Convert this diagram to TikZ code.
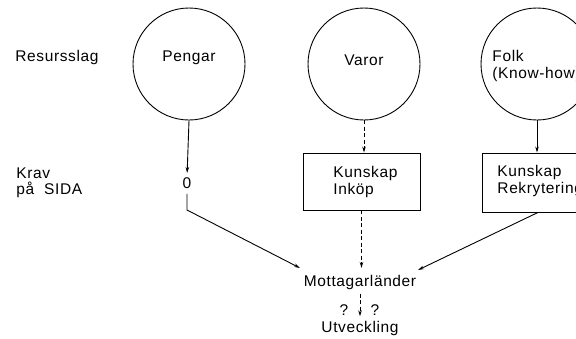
\documentclass[tikz,border=0pt]{standalone}
\usepackage{fontspec}
\setmainfont[LetterSpace=4]{Liberation Sans}
\usetikzlibrary{arrows.meta}
\begin{document}
\begin{tikzpicture}[x=1pt,y=-1pt,
  line width=0.9pt,
  lbl/.style={font=\fontsize{15.5}{16.5}\selectfont, inner sep=0pt},
  circ/.style={draw, circle, minimum size=112pt, inner sep=0pt},
  boxx/.style={draw, rectangle, inner sep=0pt},
  arr/.style={-{Stealth[length=6pt,width=3.5pt]}},
  dsh/.style={dash pattern=on 4pt off 2.5pt}]
\useasboundingbox (0,0) rectangle (576,338);
\clip (0,0) rectangle (576,338);
% row labels
\node[lbl, anchor=west] (res) at (15,57) {Resursslag};
\node[lbl, anchor=north west, align=left] (krav) at (16,167) {Krav\\på\ \ SIDA};
% circles
\node[circ] (pengar) at (189,64) {};
\node[circ] (varor) at (364,64) {};
\node[circ] (folk) at (537,64) {};
\node[lbl] (pengart) at (189,58) {Pengar};
\node[lbl] (varort) at (364,60) {Varor};
\node[lbl, anchor=west, align=left] (folkt) at (492,66) {Folk\\(Know-how)};
% second row
\node[lbl] (zero) at (187,183) {0};
\node[boxx, minimum width=117pt, minimum height=57pt] (inkop) at (361.5,181.5) {};
\node[lbl, anchor=west, align=left] (inkopt) at (333,182) {Kunskap\\Inköp};
\node[boxx, minimum width=118pt, minimum height=59pt] (folkbox) at (541,182.5) {};
\node[lbl, anchor=west, align=left] (folkboxt) at (497,181) {Kunskap\\Rekrytering};
% bottom
\node[lbl] (mott) at (360,282) {Mottagarländer};
\node[lbl] (utv) at (360,328) {Utveckling};
\node[lbl] (q1) at (344,310) {?};
\node[lbl] (q2) at (375,310) {?};
\coordinate (z1) at (187,210);
\coordinate (m1) at (300,268);
\coordinate (m2) at (363,268);
\coordinate (m3) at (418,270);
% connectors
\draw[arr, shorten >=4pt] (pengar.south) -- (zero.north);
\draw[arr, shorten <=5pt] (zero.south) -- (z1) -- (m1);
\draw[arr, dsh] (varor.south) -- (varor.south |- inkop.north);
\draw[arr] (folk.south) -- (folk.south |- folkbox.north);
\draw[arr, dsh] (inkop.south) -- (inkop.south |- m2);
\draw[arr] (folkbox.south) ++(-3,0) -- (m3);
\draw[arr, dsh, shorten <=4pt, shorten >=4pt] (mott.south) -- (utv.north);
\end{tikzpicture}
\end{document}
